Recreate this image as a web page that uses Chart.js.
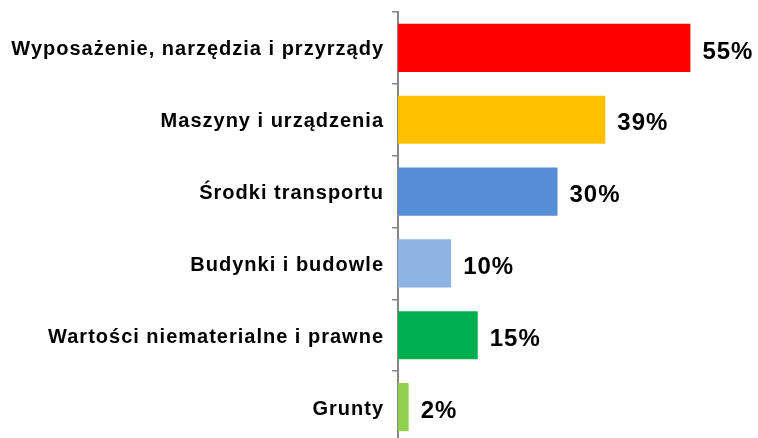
<!DOCTYPE html>
<html>
<head>
<meta charset="utf-8">
<script src="https://cdn.jsdelivr.net/npm/chart.js@4/dist/chart.umd.min.js"></script>
<style>
  html, body { margin: 0; padding: 0; background: #fff; overflow: hidden; }
  #wrap { position: relative; width: 758px; height: 444px; }
</style>
</head>
<body>
<div id="wrap"><canvas id="chart"></canvas></div>
<script>
const categories = [
  'Wyposażenie, narzędzia i przyrządy',
  'Maszyny i urządzenia',
  'Środki transportu',
  'Budynki i budowle',
  'Wartości niematerialne i prawne',
  'Grunty'
];
const values = [55, 39, 30, 10, 15, 2];
const barColors = ['#FF0000', '#FFC000', '#558ED5', '#8EB4E3', '#00B050', '#92D050'];

// letter spacing for all text (the reference text is slightly spaced)
const spacing = {
  id: 'spacing',
  beforeDraw(chart) { chart.ctx.letterSpacing = '1px'; }
};

// percentage labels at the end of each bar
const valueLabels = {
  id: 'valueLabels',
  afterDatasetsDraw(chart) {
    const ctx = chart.ctx;
    const meta = chart.getDatasetMeta(0);
    ctx.save();
    ctx.letterSpacing = '1px';
    ctx.font = 'bold 24px "Liberation Sans", Arial, sans-serif';
    ctx.fillStyle = '#000';
    ctx.textAlign = 'left';
    ctx.textBaseline = 'middle';
    meta.data.forEach((bar, i) => {
      ctx.fillText(values[i] + '%', bar.x + 12, bar.y + 4);
    });
    ctx.restore();
  }
};

new Chart(document.getElementById('chart'), {
  type: 'bar',
  data: {
    labels: categories,
    datasets: [{
      data: values,
      backgroundColor: barColors,
      borderWidth: 0,
      categoryPercentage: 1,
      barPercentage: 0.67
    }]
  },
  options: {
    indexAxis: 'y',
    responsive: true,
    maintainAspectRatio: false,
    animation: false,
    layout: { padding: { top: 12, right: 41, bottom: 1, left: 0 } },
    plugins: {
      legend: { display: false },
      tooltip: { enabled: false }
    },
    scales: {
      x: {
        display: false,
        min: 0,
        max: 60
      },
      y: {
        afterFit(scale) {
          scale.width = 398;
          scale.paddingTop = 0;
          scale.paddingBottom = 0;
        },
        border: { display: true, color: '#868686', width: 2 },
        grid: {
          drawOnChartArea: false,
          drawTicks: true,
          tickLength: 6,
          color: '#868686',
          lineWidth: 1.5,
          offset: true
        },
        ticks: {
          color: '#000',
          padding: 8,
          labelOffset: 2,
          font: { family: '"Liberation Sans", Arial, sans-serif', size: 20, weight: 'bold' }
        }
      }
    }
  },
  plugins: [spacing, valueLabels]
});
</script>
</body>
</html>
